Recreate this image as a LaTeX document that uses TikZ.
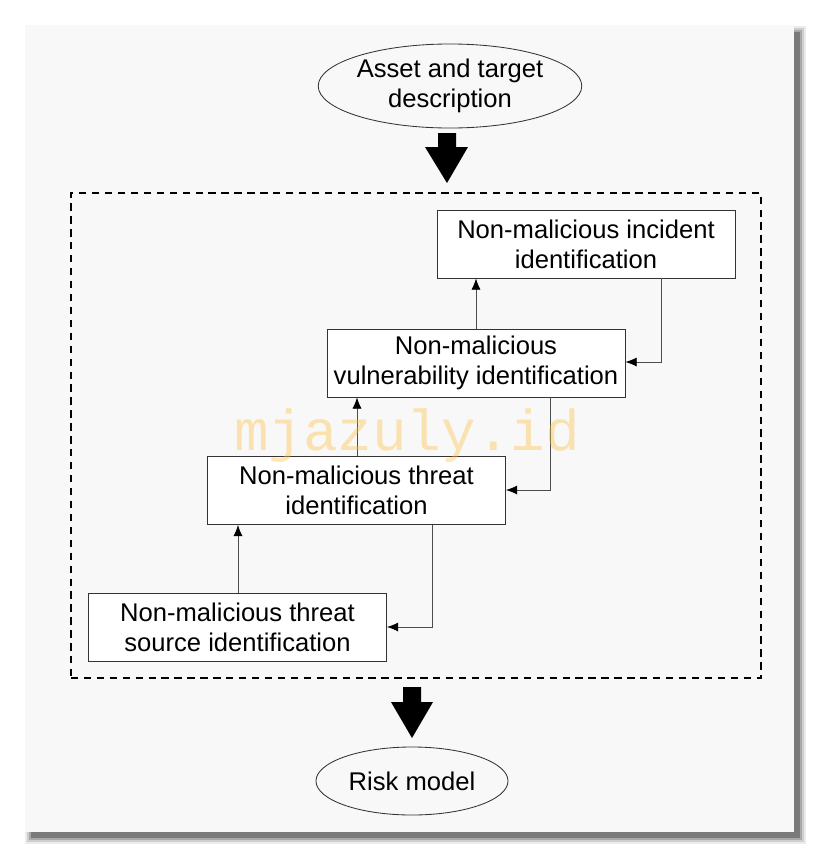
\documentclass[tikz,border=0pt]{standalone}
\usepackage{fontspec}
\setmainfont{Liberation Sans}
\newfontfamily\markfont{Liberation Mono}
\usepackage{tikz}
\usetikzlibrary{shapes}
\usetikzlibrary{arrows.meta}
\definecolor{panelgray}{HTML}{F8F8F8}
\definecolor{markcol}{RGB}{255,190,60}

\begin{document}
\begin{tikzpicture}[x=0.025cm, y=-0.025cm]

      \tikzset{stage/.style = {shape=rectangle,draw=black!80,fill=white,line width=0.6pt,
          minimum width=7.45cm,minimum height=1.7cm,inner sep=0pt,align=center,
          font=\fontsize{18.2}{21.5}\selectfont}}
      \tikzset{term/.style = {shape=ellipse,draw=black!80,line width=0.6pt,inner sep=0pt,
          align=center,font=\fontsize{18.2}{21.5}\selectfont}}
      \tikzset{edge/.style = {-{Latex[length=8pt,width=6.5pt,color=black]},draw=black!70,line width=0.6pt}}
      \tikzset{fat/.style = {fill=black}}
      \useasboundingbox (0,0) rectangle (819,857);
      % panel with shadow
      \foreach \s/\op in {6/0.08,4/0.12,2/0.18,0/0.28}
        \fill[black,opacity=\op] (31-\s,32-\s) rectangle (800+\s,838+\s);
      \fill[panelgray] (25,25) rectangle (794,832);
      % nodes
      \node[term,minimum width=6.4cm,minimum height=2.1cm] (asset) at (450,86)
          {Asset and target\\description};
      \node[term,minimum width=4.8cm,minimum height=1.7cm] (risk) at (412,781) {Risk model};
      \node[draw,dashed,line width=1.6pt,dash pattern=on 5.2pt off 4pt,
          minimum width=17.25cm,minimum height=12.125cm] (frame) at (416,435.5) {};
      \node[stage] (inc) at (586,244) {Non-malicious incident\\identification};
      \node[stage] (vul) at (476,363) {Non-malicious\\vulnerability identification};
      \node[stage] (thr) at (356.5,490.5) {Non-malicious threat\\identification};
      \node[stage] (src) at (237.5,627) {Non-malicious threat\\source identification};
      % fat arrows
      \fill[fat] (438,133) -- (456,133) -- (456,147) -- (468,147) -- (447,183)
          -- (425,147) -- (438,147) -- cycle;
      \fill[fat] (403,687) -- (421,687) -- (421,702) -- (433,702) -- (412,738)
          -- (391,702) -- (403,702) -- cycle;
      % edges
      \draw[edge] (src.north -| 238,0) -- (thr.south -| 238,0);
      \draw[edge] (thr.north -| 357,0) -- (vul.south -| 357,0);
      \draw[edge] (vul.north -| 476,0) -- (inc.south -| 476,0);
      \draw[edge] (inc.south -| 661,0) |- (vul.east |- 0,362);
      \draw[edge] (vul.south -| 550,0) |- (thr.east |- 0,490);
      \draw[edge] (thr.south -| 432,0) |- (src.east |- 0,627);
      % watermark
      \node[anchor=base,text=markcol,opacity=0.38,inner sep=0pt,
          font=\markfont\fontsize{41}{41}\selectfont] (mark) at (407,450) {mjazuly.id};

\end{tikzpicture}
\end{document}
